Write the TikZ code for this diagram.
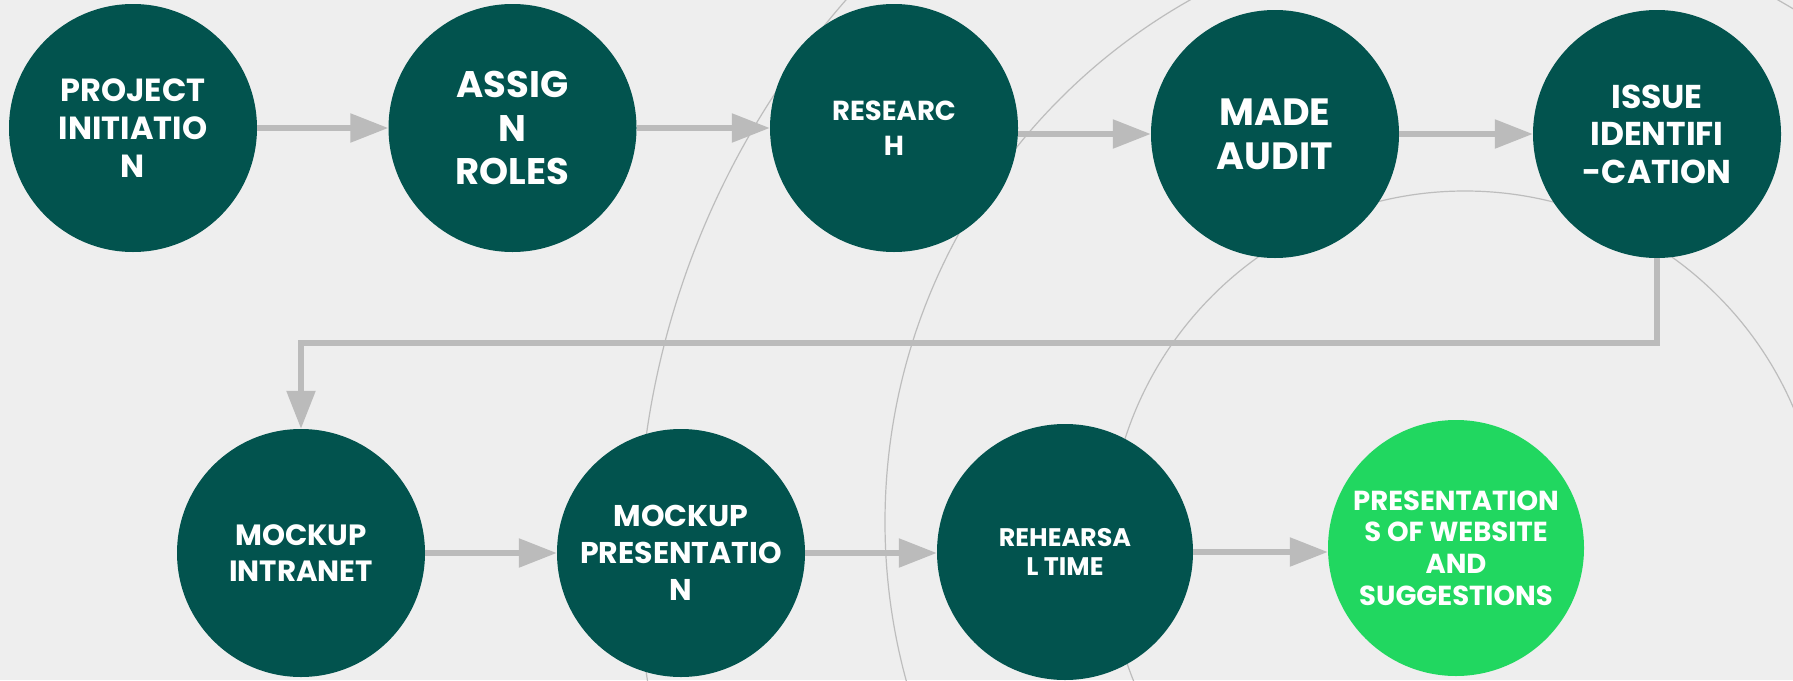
\documentclass[tikz,border=0pt]{standalone}
\usepackage{fontspec}
\setmainfont{Poppins}
\usetikzlibrary{arrows.meta}
\definecolor{bg}{HTML}{EEEEEE}
\definecolor{dk}{HTML}{02534E}
\definecolor{lg}{HTML}{21D760}
\definecolor{ar}{HTML}{BBBBBB}
\definecolor{ringc}{HTML}{BDBDBD}
\newcommand{\fs}[2]{\bfseries\fontsize{#1}{#2}\selectfont}
\begin{document}
\begin{tikzpicture}[x=1pt,y=-1pt,
  stage/.style={circle, fill=dk, text=white, inner sep=0pt, minimum size=248pt, align=center},
  final/.style={stage, fill=lg, minimum size=256pt},
  flow/.style={draw=ar, line width=5.5pt, -{Triangle[length=38pt,width=28pt]}},
  ring/.style={draw=ringc, line width=1.2pt}]
\fill[bg] (0,0) rectangle (1793,680);
\useasboundingbox (0,0) rectangle (1793,680);
\begin{scope}
  \clip (0,0) rectangle (1793,680);
  \draw[ring] (1480,554) circle[radius=842pt];
  \draw[ring] (1484,522) circle[radius=599pt];
  \draw[ring] (1465,548) circle[radius=357pt];
\end{scope}
\node[stage, font={\fs{32}{38.3}}] (n1) at (133,128) {PROJECT\\INITIATIO\\N};
\node[stage, font={\fs{37}{43.3}}] (n2) at (512.5,128) {ASSIG\\N\\ROLES};
\node[stage, font={\fs{27.5}{34.7}}] (n3) at (894,128) {RESEARC\\H};
\node[stage, font={\fs{38}{44}}] (n4) at (1275,134) {MADE\\AUDIT};
\node[stage, font={\fs{33}{37.5}}] (n5) at (1657,134) {ISSUE\\IDENTIFI\\-CATION};
\node[stage, font={\fs{29.3}{35.7}}] (n6) at (301,553) {MOCKUP\\INTRANET};
\node[stage, font={\fs{30}{36.7}}] (n7) at (681,553) {MOCKUP\\PRESENTATIO\\N};
\node[stage, minimum size=256pt, font={\fs{25.4}{28.3}}] (n8) at (1065,552) {REHEARSA\\L TIME};
\node[final, font={\fs{27.5}{31.7}}] (n9) at (1456,548) {PRESENTATION\\S OF WEBSITE\\AND\\SUGGESTIONS};
\draw[flow] (n1.east) -- (n2.west);
\draw[flow] (n2.east) -- (n3.west);
\draw[flow] (n4.west -| n3.east) -- (n4.west);
\draw[flow] (n4.east) -- (n5.west);
\draw[flow] (n5.south) -- ++(0,85) -| (n6.north);
\draw[flow] (n6.east) -- (n7.west);
\draw[flow] (n7.east) -- (n7.east -| n8.west);
\draw[flow] (n8.east) -- (n8.east -| n9.west);
\end{tikzpicture}
\end{document}
